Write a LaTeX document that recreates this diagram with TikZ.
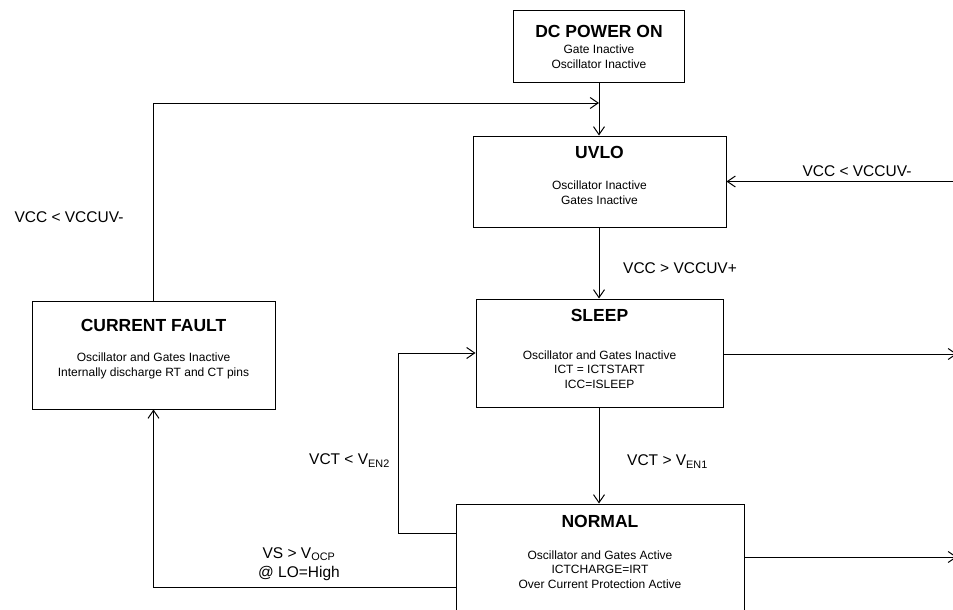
\documentclass[tikz,border=0pt]{standalone}
\usepackage{fontspec}
\setmainfont{Liberation Sans}
\usetikzlibrary{arrows.meta}
\begin{document}
\begin{tikzpicture}[x=1pt,y=-1pt,
  box/.style={draw, line width=1pt, inner sep=0pt},
  ttl/.style={font=\fontsize{17.5}{20}\selectfont\bfseries, inner sep=0pt},
  body/.style={font=\fontsize{12}{14.5}\selectfont, align=center, inner sep=0pt},
  lbl/.style={font=\fontsize{15.5}{19}\selectfont, inner sep=0pt},
  wire/.style={line width=1pt},
  arr/.style={line width=1pt, -{Straight Barb[length=8pt,width=11pt]}}]
\useasboundingbox (0,0) rectangle (953,610);
\fill[white] (0,0) rectangle (953,610);
% boxes
\node[box, minimum width=171pt, minimum height=71pt] (dc) at (599,46.5) {};
\node[box, minimum width=253pt, minimum height=91pt] (uvlo) at (599.5,181.5) {};
\node[box, minimum width=247pt, minimum height=108pt] (sleep) at (599.5,353) {};
\node[box, minimum width=243pt, minimum height=108pt] (cf) at (153.5,355) {};
\node[box, minimum width=288pt, minimum height=146pt] (normal) at (600,577) {};
% titles and texts
\node[ttl] (dct) at (599,31) {DC POWER ON};
\node[body] (dcb) at (599,56.5) {Gate Inactive\\Oscillator Inactive};
\node[ttl] (uvlot) at (599.5,152) {UVLO};
\node[body] (uvlob) at (599.5,192.5) {Oscillator Inactive\\Gates Inactive};
\node[ttl] (sleept) at (599.5,315) {SLEEP};
\node[body] (sleepb) at (599.5,369.5) {Oscillator and Gates Inactive\\ICT = ICTSTART\\ICC=ISLEEP};
\node[ttl] (cft) at (153.5,325) {CURRENT FAULT};
\node[body] (cfb) at (153.5,366) {Oscillator and Gates Inactive\\Internally discharge RT and CT pins};
\node[ttl] (normalt) at (600,521) {NORMAL};
\node[body] (normalb) at (600,569.5) {Oscillator and Gates Active\\ICTCHARGE=IRT\\Over Current Protection Active};
% labels
\node[lbl, anchor=base] (l1) at (857,176) {VCC < VCCUV-};
\node[lbl, anchor=base] (l2) at (69,222.5) {VCC < VCCUV-};
\node[lbl, anchor=base west] (l3) at (623,273.5) {VCC > VCCUV+};
\node[lbl, anchor=base west] (l4) at (627,465.5) {VCT > V\textsubscript{EN1}};
\node[lbl, anchor=base east] (l5) at (390,464.5) {VCT < V\textsubscript{EN2}};
\node[lbl, align=center, font=\fontsize{15.5}{19}\selectfont] (l6) at (299,564) {VS > V\textsubscript{OCP}\\@ LO=High};
% coordinates
\coordinate (j1) at (599,103);
\coordinate (r1) at (956,181.5);
\coordinate (r2) at (957,354);
\coordinate (r3) at (957,557);
\coordinate (k1) at (398,533);
\coordinate (k2) at (154,587);
% connectors
\draw[arr] (dc.south) -- (uvlo.north -| dc.south);
\draw[arr] (cf.north) |- (j1);
\draw[arr] (r1) -- (uvlo.east);
\draw[arr] (uvlo.south -| dc.south) -- (sleep.north -| dc.south);
\draw[arr] (sleep.east |- r2) -- (r2);
\draw[arr] (sleep.south -| dc.south) -- (normal.north -| dc.south);
\draw[arr] (normal.west |- k1) -- (k1) |- (sleep.west);
\draw[arr] (normal.west |- k2) -| (cf.south);
\draw[arr] (normal.east |- r3) -- (r3);
\end{tikzpicture}
\end{document}
